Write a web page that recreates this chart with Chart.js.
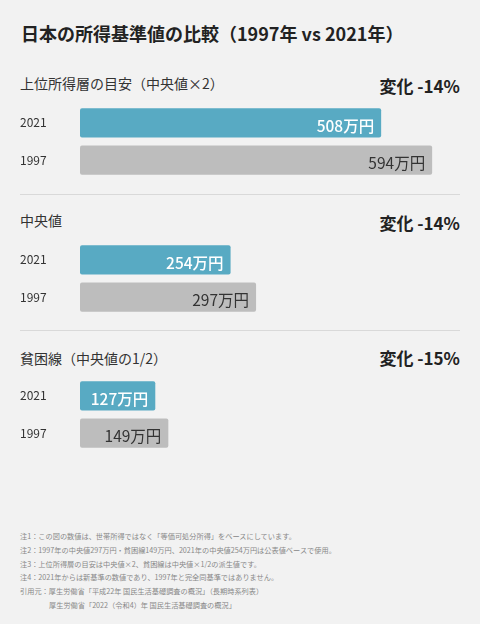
<!DOCTYPE html>
<html lang="ja">
<head>
<meta charset="utf-8">
<title>日本の所得基準値の比較</title>
<script src="https://cdn.jsdelivr.net/npm/chart.js@4"></script>
<style>
  html, body { margin: 0; padding: 0; }
  body {
    width: 480px; height: 624px; position: relative; overflow: hidden;
    background: #f2f2f2;
    font-family: "Noto Sans CJK JP", "Noto Sans", sans-serif;
  }
  .abs { position: absolute; white-space: nowrap; }
  .title { left: 21px; top: 21px; font-size: 18px; line-height: 24px; font-weight: 700; color: #222; }
  .head { left: 20px; font-size: 14px; line-height: 20px; color: #333; }
  .change { right: 20px; font-size: 17px; line-height: 24px; font-weight: 700; color: #222; }
  .sep { left: 20px; width: 440px; height: 1px; background: #d9d9d9; }
  .chart { left: 0; width: 480px; height: 89px; }
  .notes { left: 20px; top: 530px; font-size: 7.2px; line-height: 13.8px; color: #888; }
  .notes .indent { padding-left: 29px; }
</style>
</head>
<body>

<div class="abs title">日本の所得基準値の比較（1997年 vs 2021年）</div>

<div class="abs head" id="head-0" style="top:73px"></div>
<div class="abs change" id="change-0" style="top:74px"></div>
<div class="abs chart" style="top:97px"><canvas id="chart-0" width="480" height="89"></canvas></div>
<div class="abs sep" style="top:194px"></div>

<div class="abs head" id="head-1" style="top:210px"></div>
<div class="abs change" id="change-1" style="top:210.5px"></div>
<div class="abs chart" style="top:233.5px"><canvas id="chart-1" width="480" height="89"></canvas></div>
<div class="abs sep" style="top:330px"></div>

<div class="abs head" id="head-2" style="top:348px"></div>
<div class="abs change" id="change-2" style="top:346px"></div>
<div class="abs chart" style="top:370px"><canvas id="chart-2" width="480" height="89"></canvas></div>

<div class="abs notes">
  <div>注1：この図の数値は、世帯所得ではなく「等価可処分所得」をベースにしています。</div>
  <div>注2：1997年の中央値297万円・貧困線149万円、2021年の中央値254万円は公表値ベースで使用。</div>
  <div>注3：上位所得層の目安は中央値×2、貧困線は中央値×1/2の派生値です。</div>
  <div>注4：2021年からは新基準の数値であり、1997年と完全同基準ではありません。</div>
  <div>引用元：厚生労働省「平成22年 国民生活基礎調査の概況」（長期時系列表）</div>
  <div class="indent">厚生労働省「2022（令和4）年 国民生活基礎調査の概況」</div>
</div>

<script>
// ── Data ──────────────────────────────────────────────────────────────────────
const years = ["2021", "1997"];
const sectionTitles = ["上位所得層の目安（中央値×2）", "中央値", "貧困線（中央値の1/2）"];
const changeLabels = ["変化 -14%", "変化 -14%", "変化 -15%"];
const values2021 = [508, 254, 127];   // 万円
const values1997 = [594, 297, 149];   // 万円
const unit = "万円";

// shared look
const BAR_COLORS = ["#58aac3", "#bdbdbd"];
const LABEL_COLORS = ["#ffffff", "#333333"];
const X_MAX = 641;

Chart.defaults.font.family = "'Noto Sans CJK JP', 'Noto Sans', sans-serif";

// draws "508万円" inside the right end of each bar
const valueLabels = {
  id: "valueLabels",
  afterDatasetsDraw(chart) {
    const ctx = chart.ctx;
    const meta = chart.getDatasetMeta(0);
    const data = chart.data.datasets[0].data;
    ctx.save();
    ctx.textAlign = "right";
    ctx.textBaseline = "middle";
    meta.data.forEach((bar, i) => {
      ctx.font = (i === 0 ? "500 " : "400 ") + "15.5px 'Noto Sans CJK JP', sans-serif";
      ctx.fillStyle = LABEL_COLORS[i];
      ctx.fillText(data[i] + unit, bar.x - 7, bar.y + 3);
    });
    ctx.restore();
  },
};

function renderSection(i) {
  document.getElementById("head-" + i).textContent = sectionTitles[i];
  document.getElementById("change-" + i).textContent = changeLabels[i];

  new Chart(document.getElementById("chart-" + i), {
    type: "bar",
    data: {
      labels: years,
      datasets: [{
        data: [values2021[i], values1997[i]],
        backgroundColor: BAR_COLORS,
        borderRadius: 2,
        borderSkipped: false,
        barPercentage: 0.787,
        categoryPercentage: 1,
      }],
    },
    options: {
      indexAxis: "y",
      responsive: false,
      animation: false,
      layout: { padding: { left: 20, right: 20, top: 0, bottom: 0 } },
      plugins: { legend: { display: false }, tooltip: { enabled: false } },
      scales: {
        x: { display: false, min: 0, max: X_MAX },
        y: {
          grid: { display: false },
          border: { display: false },
          ticks: { crossAlign: "far", padding: 0, color: "#333", font: { size: 12 } },
          afterFit(scale) { scale.width = 60; },
        },
      },
    },
    plugins: [valueLabels],
  });
}

[0, 1, 2].forEach(renderSection);
</script>
</body>
</html>
